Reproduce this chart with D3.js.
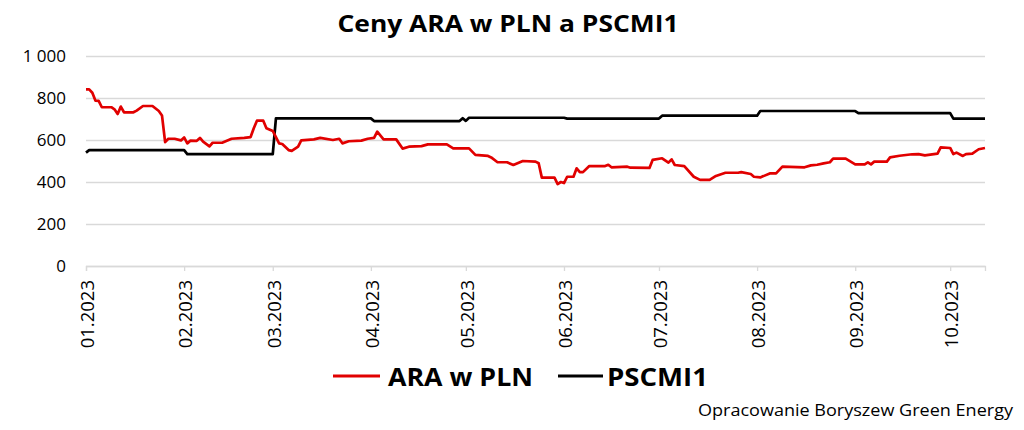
<!DOCTYPE html>
<html>
<head>
<meta charset="utf-8">
<script src="https://cdn.jsdelivr.net/npm/d3@7"></script>
<style>
  body { margin: 0; background: #fff; }
  #chart { width: 1024px; height: 430px; }
  text { font-family: "Open Sans", "Noto Sans", sans-serif; fill: #000; }
</style>
</head>
<body>
<div id="chart"></div>
<script>
// values (date, value)
const araPoints = [
  ["2023-01-01", 841], ["2023-01-02", 841], ["2023-01-03", 825], ["2023-01-04", 787],
  ["2023-01-05", 786], ["2023-01-06", 756], ["2023-01-09", 756], ["2023-01-10", 746],
  ["2023-01-11", 724], ["2023-01-12", 759], ["2023-01-13", 732], ["2023-01-16", 732],
  ["2023-01-17", 740], ["2023-01-19", 762], ["2023-01-22", 762], ["2023-01-24", 738],
  ["2023-01-25", 717], ["2023-01-26", 590], ["2023-01-27", 606], ["2023-01-29", 606],
  ["2023-01-31", 598], ["2023-02-01", 612], ["2023-02-02", 584], ["2023-02-03", 597],
  ["2023-02-05", 596], ["2023-02-06", 610], ["2023-02-07", 592], ["2023-02-09", 570],
  ["2023-02-10", 587], ["2023-02-13", 587], ["2023-02-16", 606], ["2023-02-20", 610],
  ["2023-02-22", 614], ["2023-02-23", 656], ["2023-02-24", 692], ["2023-02-26", 692],
  ["2023-02-27", 656], ["2023-03-01", 643], ["2023-03-03", 584], ["2023-03-04", 581],
  ["2023-03-06", 552], ["2023-03-07", 548], ["2023-03-09", 568], ["2023-03-10", 598],
  ["2023-03-14", 603], ["2023-03-16", 610], ["2023-03-20", 600], ["2023-03-22", 606],
  ["2023-03-23", 584], ["2023-03-25", 594], ["2023-03-29", 597], ["2023-03-31", 606],
  ["2023-04-02", 610], ["2023-04-03", 640], ["2023-04-05", 603], ["2023-04-09", 603],
  ["2023-04-11", 559], ["2023-04-13", 568], ["2023-04-17", 571], ["2023-04-19", 579],
  ["2023-04-25", 579], ["2023-04-27", 560], ["2023-05-02", 560], ["2023-05-04", 529],
  ["2023-05-08", 524], ["2023-05-09", 517], ["2023-05-11", 494], ["2023-05-14", 494],
  ["2023-05-16", 481], ["2023-05-19", 500], ["2023-05-23", 497], ["2023-05-24", 489],
  ["2023-05-25", 421], ["2023-05-29", 421], ["2023-05-30", 390], ["2023-05-31", 400],
  ["2023-06-01", 395], ["2023-06-02", 425], ["2023-06-04", 425], ["2023-06-05", 465],
  ["2023-06-06", 447], ["2023-06-07", 447], ["2023-06-09", 476], ["2023-06-14", 476],
  ["2023-06-15", 482], ["2023-06-16", 470], ["2023-06-21", 473], ["2023-06-22", 468],
  ["2023-06-28", 467], ["2023-06-29", 505], ["2023-07-02", 513], ["2023-07-04", 492],
  ["2023-07-05", 508], ["2023-07-06", 481], ["2023-07-09", 476], ["2023-07-12", 425],
  ["2023-07-14", 410], ["2023-07-17", 410], ["2023-07-19", 429], ["2023-07-22", 444],
  ["2023-07-26", 444], ["2023-07-27", 447], ["2023-07-30", 438], ["2023-07-31", 425],
  ["2023-08-02", 422], ["2023-08-03", 428], ["2023-08-05", 441], ["2023-08-07", 441],
  ["2023-08-09", 473], ["2023-08-16", 470], ["2023-08-18", 479], ["2023-08-20", 482],
  ["2023-08-22", 489], ["2023-08-24", 494], ["2023-08-25", 511], ["2023-08-29", 511],
  ["2023-09-01", 484], ["2023-09-04", 484], ["2023-09-05", 494], ["2023-09-06", 484],
  ["2023-09-07", 497], ["2023-09-11", 497], ["2023-09-12", 517], ["2023-09-15", 525],
  ["2023-09-19", 532], ["2023-09-21", 533], ["2023-09-23", 527], ["2023-09-27", 535],
  ["2023-09-28", 565], ["2023-10-01", 562], ["2023-10-02", 533], ["2023-10-03", 540],
  ["2023-10-05", 524], ["2023-10-06", 533], ["2023-10-08", 535], ["2023-10-10", 556],
  ["2023-10-12", 562]
];

const pscmiPoints = [
  ["2023-01-01", 540], ["2023-01-02", 552], ["2023-02-01", 552], ["2023-02-02", 533],
  ["2023-03-01", 533], ["2023-03-02", 703], ["2023-04-01", 703], ["2023-04-02", 690],
  ["2023-04-29", 690], ["2023-04-30", 704], ["2023-05-01", 691], ["2023-05-02", 706],
  ["2023-06-01", 706], ["2023-06-02", 702], ["2023-07-01", 702], ["2023-07-02", 716],
  ["2023-08-01", 716], ["2023-08-02", 738], ["2023-09-01", 738], ["2023-09-02", 728],
  ["2023-10-01", 728], ["2023-10-02", 702], ["2023-10-12", 702]
];

const seriesNames = ["ARA w PLN", "PSCMI1"];
const seriesColors = ["#e10000", "#000000"];
const yTicks = [0, 200, 400, 600, 800, 1000];
const dateRange = ["2023-01-01", "2023-10-12"];

const parse = d3.timeParse("%Y-%m-%d");
const width = 1024, height = 430;
const margin = {left: 86, right: 39, top: 56, bottom: 164};

const svg = d3.select("#chart").append("svg")
    .attr("width", width).attr("height", height);

const x = d3.scaleTime()
    .domain(dateRange.map(parse))
    .range([margin.left, width - margin.right]);
const y = d3.scaleLinear()
    .domain([0, 1000])
    .range([height - margin.bottom, margin.top]);

const plFormat = d3.formatLocale({decimal: ",", thousands: "\u00a0", grouping: [3], currency: ["", " zł"]}).format(",");

// gridlines + y labels
const yAxis = svg.append("g")
    .attr("transform", `translate(${margin.left},0)`)
    .call(d3.axisLeft(y).tickValues(yTicks).tickFormat(plFormat)
        .tickSize(-(width - margin.left - margin.right)).tickPadding(20));
yAxis.select(".domain").remove();
yAxis.selectAll(".tick line").attr("stroke", "#d9d9d9").attr("stroke-width", 1.3);
yAxis.selectAll(".tick text").attr("font-size", 17).attr("fill", "#000");

// x axis
const xAxis = svg.append("g")
    .attr("transform", `translate(0,${y(0)})`)
    .call(d3.axisBottom(x).ticks(d3.timeMonth.every(1)).tickFormat(d3.timeFormat("%m.%Y")).tickSize(5));
xAxis.select(".domain").attr("stroke", "#d9d9d9").attr("stroke-width", 1.3);
xAxis.selectAll(".tick line").attr("stroke", "#d9d9d9").attr("stroke-width", 1.3);
xAxis.selectAll(".tick text")
    .attr("font-size", 18.5)
    .attr("fill", "#000")
    .attr("text-anchor", "end")
    .attr("transform", "rotate(-90)")
    .attr("x", -14)
    .attr("y", 1)
    .attr("dy", "0.35em");

// lines
const line = d3.line()
    .x(d => x(parse(d[0])))
    .y(d => y(d[1]));

svg.append("path")
    .datum(pscmiPoints)
    .attr("fill", "none")
    .attr("stroke", seriesColors[1])
    .attr("stroke-width", 2.7)
    .attr("stroke-linejoin", "round")
    .attr("d", line);

svg.append("path")
    .datum(araPoints)
    .attr("fill", "none")
    .attr("stroke", seriesColors[0])
    .attr("stroke-width", 2.7)
    .attr("stroke-linejoin", "round")
    .attr("d", line);

// title
svg.append("text")
    .attr("x", 508).attr("y", 32)
    .attr("text-anchor", "middle")
    .attr("font-size", 24).attr("font-weight", "bold")
    .attr("textLength", 341).attr("lengthAdjust", "spacingAndGlyphs")
    .text("Ceny ARA w PLN a PSCMI1");

// legend
const legend = [
    {x1: 333, x2: 380, tx: 388, tw: 145},
    {x1: 558, x2: 603, tx: 607, tw: 101}
];
legend.forEach((l, i) => {
    svg.append("line")
        .attr("x1", l.x1).attr("x2", l.x2)
        .attr("y1", 376).attr("y2", 376)
        .attr("stroke", seriesColors[i]).attr("stroke-width", 3);
    svg.append("text")
        .attr("x", l.tx).attr("y", 385.5)
        .attr("font-size", 25).attr("font-weight", "bold")
        .attr("textLength", l.tw).attr("lengthAdjust", "spacingAndGlyphs")
        .text(seriesNames[i]);
});

// source
svg.append("text")
    .attr("x", 698).attr("y", 416)
    .attr("font-size", 17)
    .attr("textLength", 315).attr("lengthAdjust", "spacingAndGlyphs")
    .text("Opracowanie Boryszew Green Energy");
</script>
</body>
</html>
